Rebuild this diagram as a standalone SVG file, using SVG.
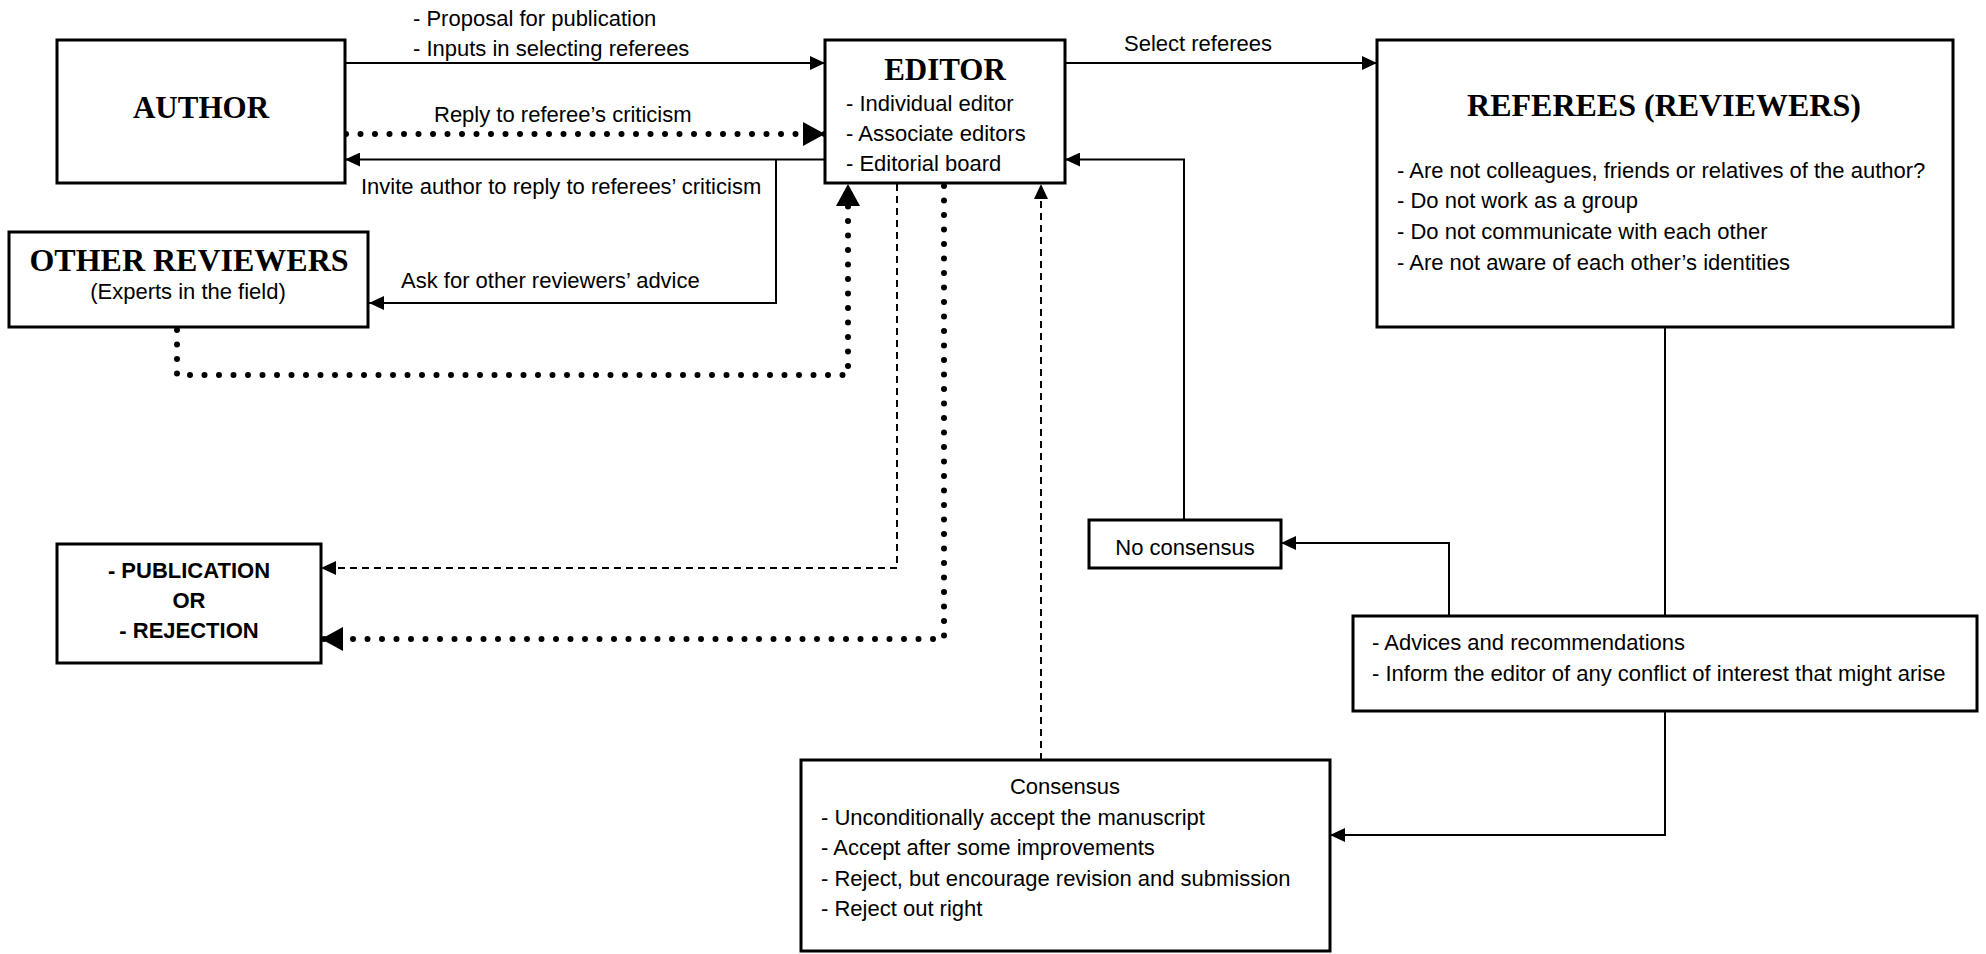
<svg xmlns="http://www.w3.org/2000/svg" width="1986" height="954" viewBox="0 0 1986 954">
<style>
.box{fill:#fff;stroke:#000;stroke-width:3}
.t{font-family:"Liberation Sans",Arial,sans-serif;font-size:22px;fill:#000}
.tb{font-family:"Liberation Sans",Arial,sans-serif;font-size:22px;font-weight:bold;fill:#000}
.h{font-family:"Liberation Serif","Times New Roman",serif;font-size:31px;font-weight:bold;fill:#000}
.c{text-anchor:middle}
.solid{fill:none;stroke:#000;stroke-width:2}
.dash{fill:none;stroke:#000;stroke-width:2;stroke-dasharray:7 5}
.dot{fill:none;stroke:#000;stroke-width:6;stroke-linecap:round;stroke-dasharray:0 14.5}
</style>
<defs>
<marker id="arr" markerUnits="userSpaceOnUse" markerWidth="16" markerHeight="14" refX="15" refY="7" orient="auto"><path d="M0,0 L15,7 L0,14 z" fill="#000"/></marker>
<marker id="big" markerUnits="userSpaceOnUse" markerWidth="24" markerHeight="24" refX="22" refY="12" orient="auto"><path d="M0,0 L22,12 L0,24 z" fill="#000"/></marker>
</defs>
<rect width="1986" height="954" fill="#fff"/>

<g id="connectors">
<path class="solid" d="M345,63 H825" marker-end="url(#arr)"/>
<path class="dot" d="M346,134 H825" marker-end="url(#big)"/>
<path class="solid" d="M825,159.5 H345" marker-end="url(#arr)"/>
<path class="solid" d="M776,159.5 V303 H369" marker-end="url(#arr)"/>
<path class="dot" d="M177,330 V375 H848 V184" marker-end="url(#big)"/>
<path class="dash" d="M897,184 V568 H321" marker-end="url(#arr)"/>
<path class="dot" d="M944,186 V639 H321" marker-end="url(#big)"/>
<path class="dash" d="M1041,760 V184" marker-end="url(#arr)"/>
<path class="solid" d="M1184,520 V159.5 H1065" marker-end="url(#arr)"/>
<path class="solid" d="M1065,63 H1377" marker-end="url(#arr)"/>
<path class="solid" d="M1665,327 V616"/>
<path class="solid" d="M1449,616 V543 H1281" marker-end="url(#arr)"/>
<path class="solid" d="M1665,711 V835 H1330" marker-end="url(#arr)"/>
<text class="t" x="413" y="26">- Proposal for publication</text>
<text class="t" x="413" y="56">- Inputs in selecting referees</text>
<text class="t" x="434" y="122">Reply to referee’s criticism</text>
<text class="t" x="361" y="194">Invite author to reply to referees’ criticism</text>
<text class="t" x="401" y="288">Ask for other reviewers’ advice</text>
<text class="t" x="1124" y="51">Select referees</text>
</g>

<g id="author">
<rect class="box" x="57" y="40" width="288" height="143"/>
<text class="h c" x="201" y="118">AUTHOR</text>
</g>

<g id="editor">
<rect class="box" x="825" y="40" width="240" height="143"/>
<text class="h c" x="945" y="80">EDITOR</text>
<text class="t" x="846" y="111">- Individual editor</text>
<text class="t" x="846" y="141">- Associate editors</text>
<text class="t" x="846" y="171">- Editorial board</text>
</g>

<g id="referees">
<rect class="box" x="1377" y="40" width="576" height="287"/>
<text class="h c" x="1664" y="116" style="font-size:32px">REFEREES (REVIEWERS)</text>
<text class="t" x="1397" y="178">- Are not colleagues, friends or relatives of the author?</text>
<text class="t" x="1397" y="208">- Do not work as a group</text>
<text class="t" x="1397" y="239">- Do not communicate with each other</text>
<text class="t" x="1397" y="270">- Are not aware of each other’s identities</text>
</g>

<g id="other-reviewers">
<rect class="box" x="9" y="232" width="359" height="95"/>
<text class="h c" x="189" y="271" style="font-size:32px">OTHER REVIEWERS</text>
<text class="t c" x="188" y="299">(Experts in the field)</text>
</g>

<g id="decision">
<rect class="box" x="57" y="544" width="264" height="119"/>
<text class="tb c" x="189" y="578">- PUBLICATION</text>
<text class="tb c" x="189" y="608">OR</text>
<text class="tb c" x="189" y="638">- REJECTION</text>
</g>

<g id="no-consensus">
<rect class="box" x="1089" y="520" width="192" height="48"/>
<text class="t c" x="1185" y="555">No consensus</text>
</g>

<g id="advices">
<rect class="box" x="1353" y="616" width="624" height="95"/>
<text class="t" x="1372" y="650">- Advices and recommendations</text>
<text class="t" x="1372" y="681">- Inform the editor of any conflict of interest that might arise</text>
</g>

<g id="consensus">
<rect class="box" x="801" y="760" width="529" height="191"/>
<text class="t c" x="1065" y="794">Consensus</text>
<text class="t" x="821" y="825">- Unconditionally accept the manuscript</text>
<text class="t" x="821" y="855">- Accept after some improvements</text>
<text class="t" x="821" y="886">- Reject, but encourage revision and submission</text>
<text class="t" x="821" y="916">- Reject out right</text>
</g>
</svg>
